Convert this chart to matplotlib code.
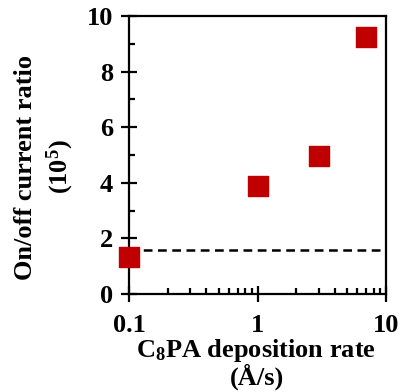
import matplotlib
matplotlib.use('Agg')
import matplotlib.pyplot as plt
from matplotlib.ticker import FixedLocator, NullFormatter

# Daten
rate = [0.1, 1, 3, 7]
ratio = [1.32, 3.9, 4.97, 9.23]
threshold = 1.6
x_ticks = [0.1, 1, 10]
x_tick_labels = ['0.1', '1', '10']
y_ticks = [0, 2, 4, 6, 8, 10]

plt.rcParams['font.family'] = 'Liberation Serif'
plt.rcParams['font.weight'] = 'bold'
plt.rcParams['mathtext.fontset'] = 'custom'
plt.rcParams['mathtext.rm'] = 'Liberation Serif:bold'
plt.rcParams['mathtext.it'] = 'Liberation Serif:bold'
plt.rcParams['mathtext.bf'] = 'Liberation Serif:bold'

fig = plt.figure(figsize=(4.02, 3.92), dpi=100)
ax = fig.add_axes([129 / 402, 1 - 294 / 392, 257 / 402, 278 / 392])

ax.axhline(threshold, color='black', linestyle=(0, (3.5, 2.2)), linewidth=1.8, zorder=1)
ax.scatter(rate, ratio, marker='s', s=207, color='#C00000', zorder=3, clip_on=False)

ax.set_xscale('log')
ax.set_xlim(0.1, 10)
ax.set_ylim(0, 10)
ax.set_xticks(x_ticks)
ax.set_xticklabels(x_tick_labels)
ax.set_yticks(y_ticks)
ax.yaxis.set_minor_locator(FixedLocator([1, 3, 5, 7, 9]))
ax.xaxis.set_minor_formatter(NullFormatter())

for s in ax.spines.values():
    s.set_linewidth(1.6)

ax.tick_params(axis='both', which='major', direction='inout', length=11, width=1.6,
               labelsize=19)
ax.tick_params(axis='both', which='minor', direction='in', length=4, width=1.6)
ax.tick_params(axis='y', which='major', pad=6)
ax.tick_params(axis='x', which='major', pad=9)

fig.text(26 / 402, 1 - 167 / 392, 'On/off current ratio', rotation=90,
         ha='center', va='center', fontsize=19, fontweight='bold')
fig.text(60 / 402, 1 - 167 / 392, '(10$^5$)', rotation=90,
         ha='center', va='center', fontsize=19, fontweight='bold')
fig.text(256 / 402, 1 - 351 / 392, 'C$_8$PA deposition rate',
         ha='center', va='center', fontsize=19, fontweight='bold')
fig.text(257 / 402, 1 - 377 / 392, '(Å/s)',
         ha='center', va='center', fontsize=19, fontweight='bold')

fig.savefig('out.png', dpi=100)
plt.close(fig)
